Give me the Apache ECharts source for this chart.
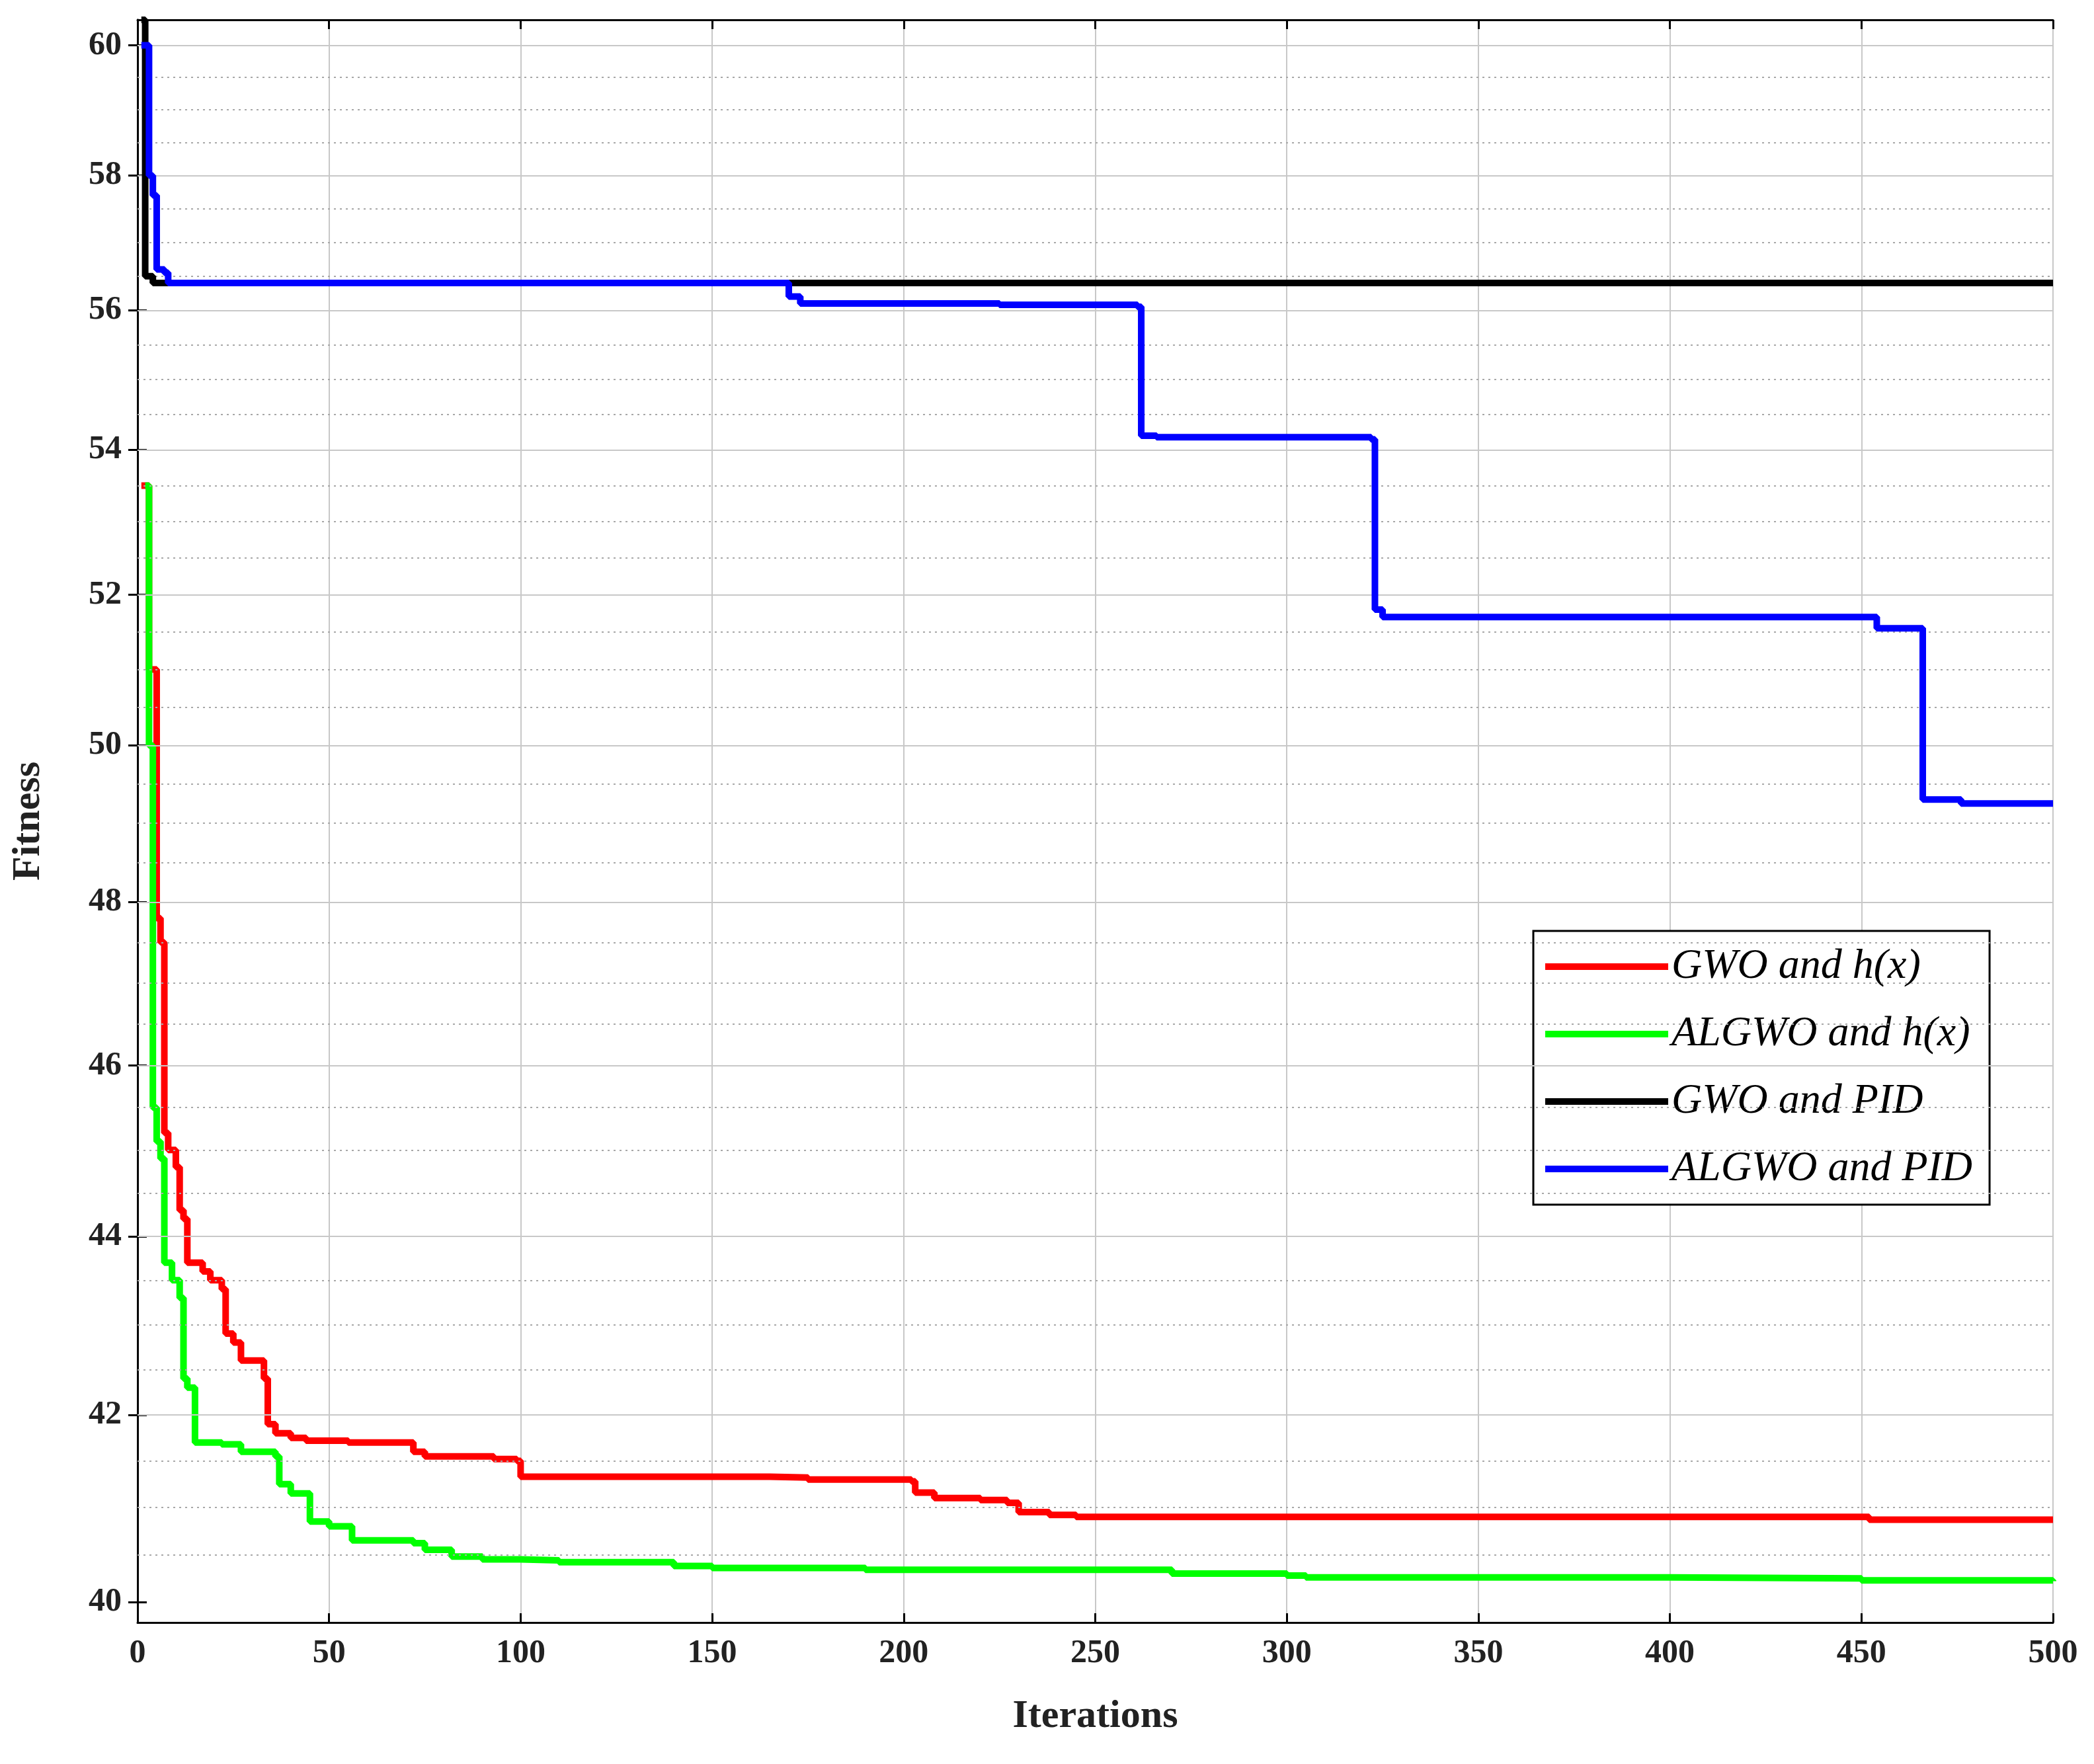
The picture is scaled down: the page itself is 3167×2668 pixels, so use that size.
<!DOCTYPE html>
<html><head><meta charset="utf-8">
<script src="https://cdn.jsdelivr.net/npm/echarts@6/dist/echarts.min.js"></script>
<style>html,body{margin:0;background:#fff}#c{width:3167px;height:2668px}</style>
</head><body><div id="c"></div>
<script>
const names = ['GWO and h(x)','ALGWO and h(x)','GWO and PID','ALGWO and PID'];
const colors = ['#ff0000','#00ff00','#000000','#0000ff'];
const gwoH = [[1,53.5],[3,51],[5,47.8],[6,47.5],[7,45.2],[8,45],[10,44.8],[11,44.3],[12,44.2],[13,43.7],[17,43.6],[19,43.5],[22,43.4],[23,42.9],[25,42.8],[27,42.6],[32,42.6],[33,42.4],[34,41.9],[36,41.8],[40,41.75],[44,41.72],[55,41.7],[72,41.6],[75,41.55],[93,41.52],[99,41.5],[100,41.33],[165,41.32],[175,41.3],[202,41.28],[203,41.16],[208,41.1],[220,41.08],[227,41.05],[230,40.95],[238,40.92],[245,40.9],[450,40.9],[452,40.87],[500,40.87]];
const algwoH = [[2,53.5],[3,50],[4,45.5],[5,45.1],[6,44.9],[7,43.7],[9,43.5],[11,43.3],[12,42.4],[13,42.3],[15,41.7],[22,41.68],[27,41.6],[36,41.55],[37,41.25],[40,41.15],[44,41.15],[45,40.85],[50,40.8],[56,40.65],[72,40.62],[75,40.55],[82,40.48],[90,40.45],[100,40.44],[110,40.42],[140,40.38],[150,40.36],[190,40.34],[260,40.34],[270,40.3],[300,40.28],[305,40.26],[400,40.25],[450,40.23],[500,40.22]];
const gwoPID = [[1,60.4],[2,56.5],[4,56.4],[500,56.4]];
const algwoPID = [[1,60],[3,58],[4,57.7],[5,56.6],[7,56.55],[8,56.4],[168,56.4],[170,56.2],[173,56.1],[225,56.08],[261,56.05],[262,54.2],[266,54.18],[322,54.15],[323,51.8],[325,51.7],[452,51.7],[454,51.55],[465,51.55],[466,49.3],[474,49.3],[476,49.25],[500,49.25]];
const yTicks = [40,42,44,46,48,50,52,54,56,58,60];
const yMinor = [40.5,41,41.5,42.5,43,43.5,44.5,45,45.5,46.5,47,47.5,48.5,49,49.5,50.5,51,51.5,52.5,53,53.5,54.5,55,55.5,56.5,57,57.5,58.5,59,59.5];
const L = v => Math.log10(v);
const yMin = L(39.79), yMax = L(60.4);
const font = 'Liberation Serif';
const tr = d => d.map(p => [p[0], L(p[1])]);
const allSeries = [gwoH, algwoH, gwoPID, algwoPID];
const series = allSeries.map((d,i)=>({
  name:names[i], type:'line', data:tr(d), step:'end', symbol:'none',
  lineStyle:{width:10,color:colors[i]}, itemStyle:{color:colors[i]}, z:3+i
}));
const gridSeries = (vals, style) => ({type:'line', data:[[0,yMin]], symbol:'none', silent:true, z:1,
  lineStyle:{width:0,opacity:0},
  markLine:{silent:true,symbol:'none',label:{show:false},precision:10,animation:false,
    lineStyle:style, data:vals.map(v=>({yAxis:L(v)}))}});
series.push(gridSeries(yTicks.slice(1), {color:'#c8c8c8',width:2,type:'solid'}));
series.push(gridSeries(yMinor, {color:'#a8a8a8',width:2,type:[3,6]}));
const yAxisBase = {type:'value',min:yMin,max:yMax,splitLine:{show:false},
  axisLine:{show:true,lineStyle:{color:'#000',width:3}},
  axisTick:{show:true,inside:true,length:14,lineStyle:{width:3,color:'#000'},customValues:yTicks.map(L)}};
const chart = echarts.init(document.getElementById('c'));
chart.setOption({
  backgroundColor:'#fff', animation:false,
  grid:{left:208,right:62,top:30,bottom:214,show:false},
  xAxis:[{type:'value',min:0,max:500,interval:50,name:'Iterations',nameLocation:'middle',nameGap:112,
    nameTextStyle:{fontFamily:font,fontWeight:'bold',fontSize:60,color:'#222'},
    axisLine:{lineStyle:{color:'#000',width:3}},axisTick:{inside:true,length:14,lineStyle:{width:3}},
    axisLabel:{fontFamily:font,fontWeight:'bold',fontSize:50,color:'#222',margin:22},
    splitLine:{show:true,lineStyle:{color:'#c8c8c8',width:2}}},
   {type:'value',min:0,max:500,interval:50,position:'top',axisLabel:{show:false},
    axisLine:{lineStyle:{color:'#000',width:3}},axisTick:{inside:true,length:14,lineStyle:{width:3}},splitLine:{show:false}}],
  yAxis:[Object.assign({},yAxisBase,{name:'Fitness',nameLocation:'middle',nameGap:135,
    nameTextStyle:{fontFamily:font,fontWeight:'bold',fontSize:60,color:'#222'},
    axisLabel:{fontFamily:font,fontWeight:'bold',fontSize:50,color:'#222',margin:24,
      customValues:yTicks.map(L),formatter:v=>String(Math.round(Math.pow(10,v)))}}),
    Object.assign({},yAxisBase,{position:'right',axisLabel:{show:false}})],
  legend:{left:2319,top:1408,orient:'vertical',itemWidth:186,itemHeight:10,itemGap:38,
    padding:[22,26,22,18],borderColor:'#000',borderWidth:3,backgroundColor:'#fff',
    textStyle:{fontFamily:font,fontStyle:'italic',fontSize:64,color:'#000'},
    data:names.map(n=>({name:n,icon:'rect'}))},
  series
});
</script></body></html>
